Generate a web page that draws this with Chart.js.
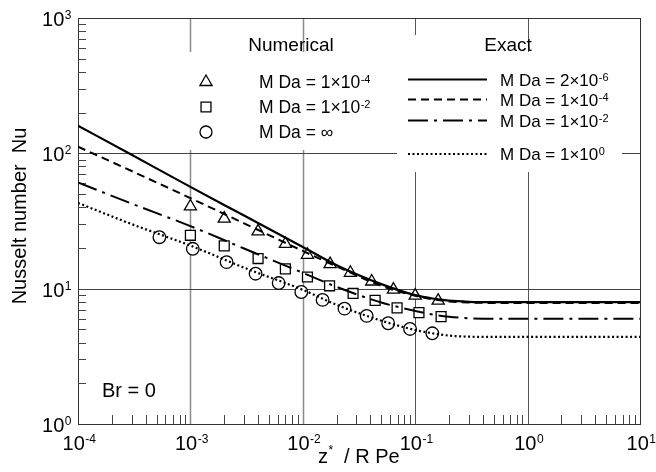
<!DOCTYPE html>
<html>
<head>
<meta charset="utf-8">
<script src="https://cdn.jsdelivr.net/npm/chart.js@4.4.0/dist/chart.umd.min.js"></script>
<style>
  html, body { margin: 0; padding: 0; background: #fff; }
  #wrap { width: 656px; height: 472px; }
</style>
</head>
<body>
<div id="wrap"><canvas id="nuChart" width="656" height="472"></canvas></div>
<script>
// Exact solutions, read along z*/(R Pe)
const zExact     = [1e-4, 3e-4, 1e-3, 3e-3, 1e-2, 2e-2, 5e-2, 0.1, 0.15, 0.2, 0.3, 0.5, 1, 10];
const nuExact2e6 = [160, 97.5, 56.5, 34.7, 20.3, 14.9, 10.8, 8.95, 8.4, 8.15, 8.0, 7.95, 7.95, 7.95];
const nuExact1e4 = [112, 74, 46.7, 30.4, 19.0, 14.6, 10.5, 8.85, 8.3, 8.05, 7.9, 7.85, 7.85, 7.85];
const nuExact1e2 = [61, 42.5, 29, 19.8, 13.1, 10.3, 7.9, 6.85, 6.4, 6.2, 6.05, 6.0, 6.0, 6.0];
const nuExact1e0 = [43, 30, 20.8, 14.3, 9.8, 7.6, 5.8, 4.95, 4.65, 4.5, 4.42, 4.4, 4.4, 4.4];

// Numerical results
const zTri  = [1e-3, 2e-3, 4e-3, 7e-3, 1.1e-2, 1.75e-2, 2.65e-2, 4.1e-2, 6.4e-2, 0.1, 0.16];
const nuTri = [40.5, 32.9, 26.5, 21.4, 17.8, 15.2, 13.1, 11.3, 9.84, 8.88, 8.15];
const zSq   = [1e-3, 2e-3, 4e-3, 7e-3, 1.1e-2, 1.73e-2, 2.8e-2, 4.4e-2, 6.9e-2, 0.108, 0.17];
const nuSq  = [24.8, 20.7, 16.7, 14.0, 12.2, 10.5, 9.22, 8.19, 7.21, 6.65, 6.21];
const zCirc  = [5.3e-4, 1.05e-3, 2.1e-3, 3.8e-3, 6.1e-3, 9.7e-3, 1.5e-2, 2.35e-2, 3.7e-2, 5.75e-2, 9e-2, 0.142];
const nuCirc = [24.0, 19.7, 15.7, 12.9, 11.0, 9.45, 8.26, 7.12, 6.29, 5.55, 5.04, 4.68];

// axis decades (exponents)
const xExp = [-4, -3, -2, -1, 0, 1];
const yExp = [0, 1, 2, 3];

const FONT = '"Liberation Sans", Arial, Helvetica, sans-serif';
const DASHED = [8, 5], DASHDOT = [20, 6, 3, 6], DOTTED = [2, 2.5];

function pts(xs, ys) { return xs.map((v, i) => ({ x: v, y: ys[i] })); }

function curve(label, ys, dash, w) {
  return {
    label, data: pts(zExact, ys), showLine: true,
    borderColor: '#000', borderWidth: w || 2, borderDash: dash,
    pointRadius: 0, cubicInterpolationMode: 'monotone', fill: false
  };
}

function marks(label, xs, ys, style, r) {
  return {
    label, data: pts(xs, ys), showLine: false,
    pointStyle: style, pointRadius: r, pointHoverRadius: r,
    pointBackgroundColor: '#fff', pointBorderColor: '#000', pointBorderWidth: 1.3
  };
}

// "10" + superscript helper
function supText(ctx, base, sup, x, y, size, supSize, raise, align) {
  ctx.font = size + 'px ' + FONT;
  const wb = ctx.measureText(base).width;
  ctx.font = supSize + 'px ' + FONT;
  const ws = ctx.measureText(sup).width;
  let x0 = x;
  if (align === 'right') x0 = x - wb - ws;
  if (align === 'center') x0 = x - (wb + ws) / 2;
  ctx.textAlign = 'left';
  ctx.textBaseline = 'alphabetic';
  ctx.font = size + 'px ' + FONT;
  ctx.fillText(base, x0, y);
  ctx.font = supSize + 'px ' + FONT;
  ctx.fillText(sup, x0 + wb + 0.5, y - raise);
}

const decor = {
  id: 'decor',
  beforeDatasetsDraw(chart) {
    const { ctx, chartArea: a, scales: { x, y } } = chart;
    ctx.save();
    // decade grid
    xExp.slice(1, -1).forEach(e => {
      const px = Math.round(x.getPixelForValue(Math.pow(10, e))) + 0.5;
      ctx.strokeStyle = e < -1 ? '#8c8c8c' : '#555';
      ctx.lineWidth = e < -1 ? 1.5 : 1;
      ctx.beginPath(); ctx.moveTo(px, a.top); ctx.lineTo(px, a.bottom); ctx.stroke();
    });
    yExp.slice(1, -1).forEach(e => {
      const py = Math.round(y.getPixelForValue(Math.pow(10, e))) + 0.5;
      ctx.strokeStyle = '#444';
      ctx.lineWidth = 1;
      ctx.beginPath(); ctx.moveTo(a.left, py); ctx.lineTo(a.right, py); ctx.stroke();
    });
    // legend backgrounds
    ctx.fillStyle = '#fff';
    ctx.fillRect(184, 52, 188, 98);
    ctx.fillRect(397, 52, 225, 120);
    ctx.fillRect(397, 35, 80, 20);
    // frame
    ctx.strokeStyle = '#333';
    ctx.lineWidth = 1;
    ctx.strokeRect(Math.round(a.left) + 0.5, Math.round(a.top) + 0.5,
                   Math.round(a.right - a.left), Math.round(a.bottom - a.top));
    // minor ticks
    ctx.strokeStyle = '#444';
    ctx.beginPath();
    xExp.slice(0, -1).forEach(e => {
      for (let m = 2; m <= 9; m++) {
        const px = Math.round(x.getPixelForValue(m * Math.pow(10, e))) + 0.5;
        ctx.moveTo(px, a.bottom); ctx.lineTo(px, a.bottom - 9);
      }
    });
    yExp.slice(0, -1).forEach(e => {
      for (let m = 2; m <= 9; m++) {
        const py = Math.round(y.getPixelForValue(m * Math.pow(10, e))) + 0.5;
        ctx.moveTo(a.left, py); ctx.lineTo(a.left + 8, py);
      }
    });
    ctx.stroke();
    ctx.restore();
  },
  afterDraw(chart) {
    const { ctx, chartArea: a, scales: { x, y } } = chart;
    ctx.save();
    ctx.fillStyle = '#000';
    // tick labels
    xExp.forEach(e => {
      supText(ctx, '10', String(e), x.getPixelForValue(Math.pow(10, e)) + 1, a.bottom + 26, 20, 12, 7, 'center');
    });
    yExp.forEach(e => {
      supText(ctx, '10', String(e), a.left - 7, y.getPixelForValue(Math.pow(10, e)) + 8, 20, 12, 7, 'right');
    });
    // axis titles
    supText(ctx, 'z', '*', 318, 463, 20, 12, 9, 'left');
    ctx.font = '20px ' + FONT;
    ctx.fillText('  / R Pe', 333, 463);
    ctx.save();
    ctx.translate(26, 216);
    ctx.rotate(-Math.PI / 2);
    ctx.textAlign = 'center';
    ctx.fillText('Nusselt number  Nu', 0, 0);
    ctx.restore();
    ctx.textAlign = 'left';
    ctx.fillText('Br = 0', 102, 397);

    // legend headings
    ctx.font = '19px ' + FONT;
    ctx.textAlign = 'center';
    ctx.fillText('Numerical', 291, 51);
    ctx.fillText('Exact', 508, 51);

    // numerical entries
    const numRows = [
      { y: 82, style: 'triangle', r: 7, text: 'M Da = 1\u00d710', sup: '-4' },
      { y: 107, style: 'rect', r: 7, text: 'M Da = 1\u00d710', sup: '-2' },
      { y: 132, style: 'circle', r: 6, text: 'M Da = \u221e', sup: '' }
    ];
    numRows.forEach(row => {
      ctx.save();
      ctx.strokeStyle = '#000';
      ctx.fillStyle = '#fff';
      ctx.lineWidth = 1.3;
      Chart.helpers.drawPoint(ctx, { pointStyle: row.style, radius: row.r, borderWidth: 1.3 }, 206, row.y);
      ctx.restore();
      supText(ctx, row.text, row.sup, 259, row.y + 6, 17.5, 11, 5, 'left');
    });

    // exact entries
    const exRows = [
      { y: 79.5, dash: [], w: 2.2, text: 'M Da = 2\u00d710', sup: '-6' },
      { y: 99.5, dash: DASHED, w: 2, text: 'M Da = 1\u00d710', sup: '-4' },
      { y: 120.5, dash: DASHDOT, w: 2, text: 'M Da = 1\u00d710', sup: '-2' },
      { y: 154, dash: DOTTED, w: 2.2, text: 'M Da = 1\u00d710', sup: '0' }
    ];
    exRows.forEach(row => {
      ctx.save();
      ctx.strokeStyle = '#000';
      ctx.lineWidth = row.w;
      ctx.setLineDash(row.dash);
      ctx.beginPath(); ctx.moveTo(408, row.y); ctx.lineTo(487, row.y); ctx.stroke();
      ctx.restore();
      supText(ctx, row.text, row.sup, 500, row.y + 6, 17, 11, 5, 'left');
    });
    ctx.restore();
  }
};

new Chart(document.getElementById('nuChart').getContext('2d'), {
  type: 'scatter',
  data: {
    datasets: [
      curve('Exact M Da = 2e-6', nuExact2e6, [], 2.2),
      curve('Exact M Da = 1e-4', nuExact1e4, DASHED),
      curve('Exact M Da = 1e-2', nuExact1e2, DASHDOT),
      curve('Exact M Da = 1e0', nuExact1e0, DOTTED, 2.2),
      marks('Numerical M Da = 1e-4', zTri, nuTri, 'triangle', 7),
      marks('Numerical M Da = 1e-2', zSq, nuSq, 'rect', 7),
      marks('Numerical M Da = inf', zCirc, nuCirc, 'circle', 6.3)
    ]
  },
  options: {
    responsive: false,
    animation: false,
    layout: { padding: { left: 78, right: 16, top: 18, bottom: 48 } },
    plugins: { legend: { display: false }, tooltip: { enabled: false } },
    scales: {
      x: { type: 'logarithmic', min: 1e-4, max: 10, display: false },
      y: { type: 'logarithmic', min: 1, max: 1000, display: false }
    }
  },
  plugins: [decor]
});
</script>
</body>
</html>
